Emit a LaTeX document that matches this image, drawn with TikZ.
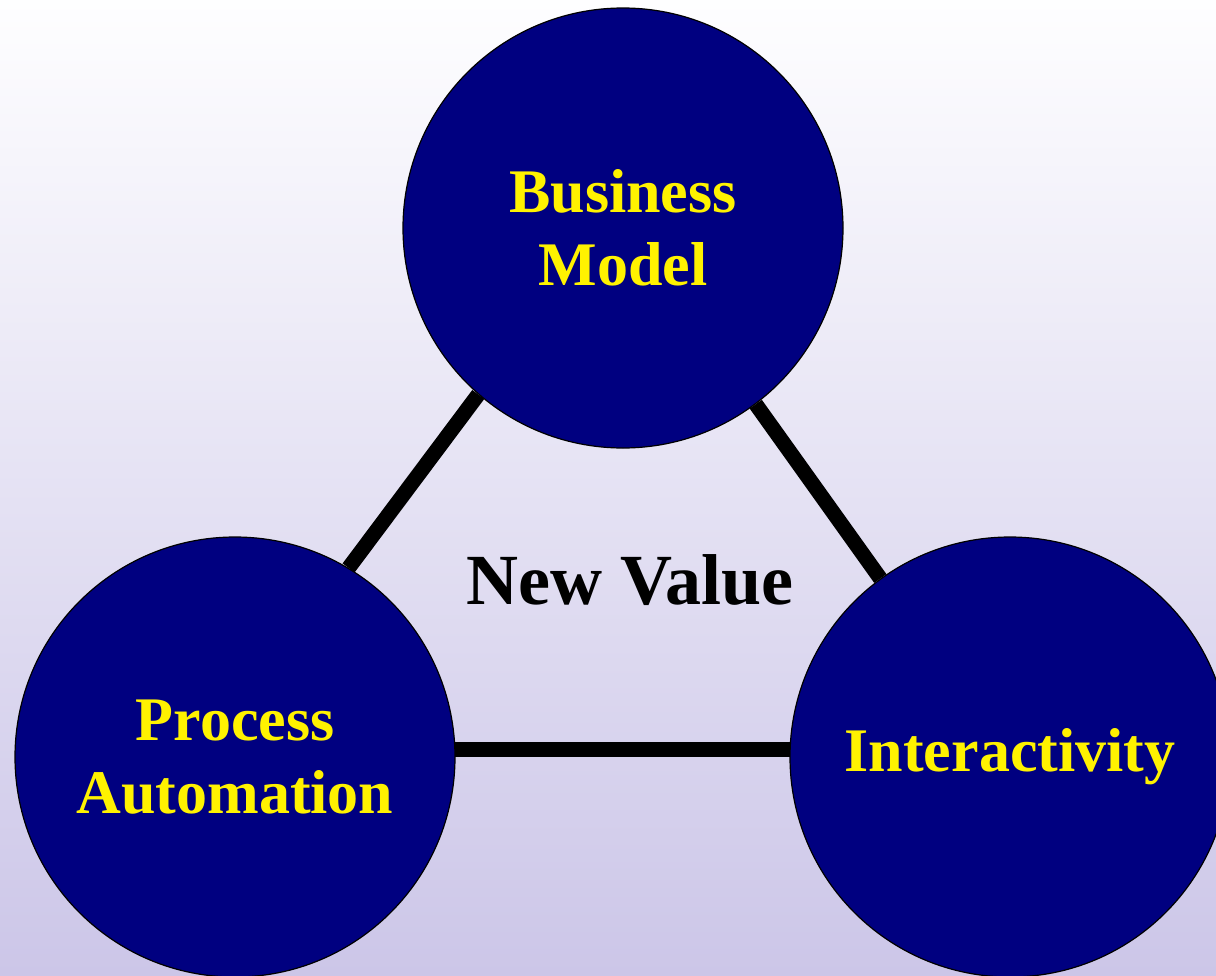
\documentclass[tikz,border=0pt]{standalone}
\usepackage{fontspec}
\setmainfont{Liberation Serif}
\usepackage{xcolor}
\definecolor{navy}{RGB}{0,0,128}
\definecolor{lavtop}{RGB}{254,254,255}
\definecolor{lavmid}{RGB}{234,232,245}
\definecolor{lavbot}{RGB}{204,198,232}
\tikzstyle{circ} = [circle, minimum size=220pt, inner sep=0pt, draw=black, line width=0.6pt, fill=navy, text=yellow, align=center, font=\fontsize{31}{36.5}\selectfont\bfseries]
\tikzstyle{link} = [line width=7.5pt, black]

\begin{document}
\begin{tikzpicture}[x=0.5pt,y=-0.5pt]
    \useasboundingbox (0,0) rectangle (1216,975);
    \clip (0,0) rectangle (1216,975);
    \shade[top color=lavtop, middle color=lavmid, bottom color=lavbot] (0,0) rectangle (1216,975);

    \node[circ] (business) at (623,228) {Business\\Model};
    \node[circ] (process) at (235,757) {Process\\Automation};
    \node[circ] (interact) at (1010,757) {Interactivity};
    \node[font=\fontsize{36}{42}\selectfont\bfseries] (value) at (630,580) {New Value};

    \draw[link] (business.229) -- (process.59);
    \draw[link] (business.307) -- (interact.126);
    \draw[link] (process.2) -- (interact.178);
\end{tikzpicture}
\end{document}
